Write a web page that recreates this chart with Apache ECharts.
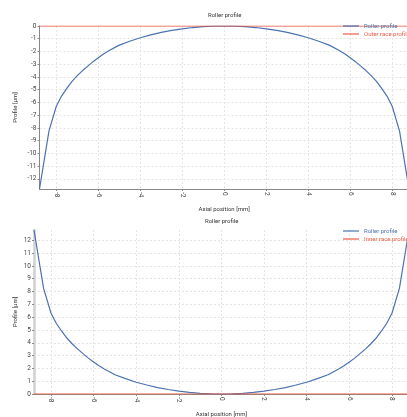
<!DOCTYPE html>
<html>
<head>
<meta charset="utf-8">
<script src="https://cdn.jsdelivr.net/npm/echarts@6/dist/echarts.min.js"></script>
<style>
html,body{margin:0;padding:0;background:#fff;}
#c{width:407px;height:417px;}
</style>
</head>
<body>
<div id="c"></div>
<script>
// Axial positions [mm] and roller profile magnitude [µm]
const axialPos = [-8.8, -8.35, -8, -7.75, -7.5, -7.25, -7, -6.75, -6.5, -6.25, -6, -5.75, -5.5, -5, -4.5, -4, -3.5, -3, -2.5, -2, -1.5, -1, -0.5, 0,
                  0.5, 1, 1.5, 2, 2.5, 3, 3.5, 4, 4.5, 5, 5.5, 5.75, 6, 6.25, 6.5, 6.75, 7, 7.25, 7.5, 7.75, 8, 8.35, 8.8];
const profileMag = [12.8, 8.25, 6.3, 5.5, 4.9, 4.35, 3.9, 3.5, 3.15, 2.8, 2.5, 2.2, 1.95, 1.5, 1.2, 0.92, 0.7, 0.5, 0.35, 0.22, 0.12, 0.05, 0.01, 0,
                    0.01, 0.05, 0.12, 0.22, 0.35, 0.5, 0.7, 0.92, 1.2, 1.5, 1.95, 2.2, 2.5, 2.8, 3.15, 3.5, 3.9, 4.35, 4.9, 5.5, 6.3, 8.25, 12.8];
const raceX = [-8.8, 8.8];
const raceY = [0, 0];
const xTicks = [-8, -6, -4, -2, 0, 2, 4, 6, 8];
const yTicksTop = [-12, -11, -10, -9, -8, -7, -6, -5, -4, -3, -2, -1, 0];
const yTicksBottom = [0, 1, 2, 3, 4, 5, 6, 7, 8, 9, 10, 11, 12];
const titles = ['Roller profile', 'Roller profile'];
const legendTop = ['Roller profile', 'Outer race profile'];
const legendBottom = ['Roller profile', 'Inner race profile'];

const BLUE = '#4c72b0';
const RED = '#ef5b46';
const FONT = 'Roboto, "Liberation Sans", sans-serif';
const FS = 6;
const FSL = 6.5;

const rollerTop = axialPos.map((x, i) => [x, -profileMag[i]]);
const rollerBottom = axialPos.map((x, i) => [x, profileMag[i]]);
const race = raceX.map((x, i) => [x, raceY[i]]);

const splitStyle = {show: true, lineStyle: {color: '#e4e4e4', type: [2, 2], width: 1}};

function xAxis(gi) {
  return {
    type: 'value', gridIndex: gi, min: -8.8, max: 8.8,
    name: 'Axial position [mm]', nameLocation: 'middle', nameGap: 17, nameMoveOverlap: false,
    nameTextStyle: {fontSize: FS, color: '#333', fontFamily: FONT},
    axisLine: {show: true, onZero: false, lineStyle: {color: '#888', width: 1}},
    axisTick: {show: true, length: 2, customValues: xTicks, lineStyle: {color: '#888'}},
    axisLabel: {customValues: xTicks, rotate: -90, fontSize: FSL, color: '#444', margin: 3, fontFamily: FONT},
    splitLine: splitStyle
  };
}
function yAxis(gi, ticks, min, max, nameGap, axisLineStyle) {
  return {
    type: 'value', gridIndex: gi, min: min, max: max,
    name: 'Profile [µm]', nameLocation: 'middle', nameGap: nameGap, nameMoveOverlap: false,
    nameTextStyle: {fontSize: FS, color: '#333', fontFamily: FONT},
    axisLine: {show: true, onZero: false, lineStyle: axisLineStyle},
    axisTick: {show: true, length: 2, customValues: ticks, lineStyle: {color: '#888'}},
    axisLabel: {customValues: ticks, fontSize: FSL, color: '#444', margin: 3, fontFamily: FONT},
    splitLine: splitStyle
  };
}

const chart = echarts.init(document.getElementById('c'), null, {renderer: 'canvas'});
chart.setOption({
  animation: false,
  backgroundColor: '#fff',
  title: [
    {text: titles[0], left: 208, top: 12, padding: 0, textStyle: {fontSize: FS, fontWeight: 'normal', color: '#333', fontFamily: FONT}},
    {text: titles[1], left: 205, top: 218, padding: 0, textStyle: {fontSize: FS, fontWeight: 'normal', color: '#333', fontFamily: FONT}}
  ],
  legend: [
    {orient: 'vertical', left: 343, top: 22, padding: 0, itemGap: 0, itemWidth: 16, itemHeight: 1.2, icon: 'rect',
     textStyle: {fontSize: FS, lineHeight: 8, fontFamily: FONT},
     data: [{name: legendTop[0], itemStyle: {color: BLUE}, textStyle: {color: BLUE}},
            {name: legendTop[1], itemStyle: {color: RED}, textStyle: {color: RED}}]},
    {orient: 'vertical', left: 343, top: 227, padding: 0, itemGap: 0, itemWidth: 16, itemHeight: 1.2, icon: 'rect',
     textStyle: {fontSize: FS, lineHeight: 8, fontFamily: FONT},
     data: [{name: legendBottom[0], itemStyle: {color: BLUE}, textStyle: {color: BLUE}},
            {name: legendBottom[1], itemStyle: {color: RED}, textStyle: {color: RED}}]}
  ],
  grid: [
    {left: 39.5, top: 26, height: 163, right: -2, containLabel: false, outerBoundsMode: 'none'},
    {left: 34, top: 230, height: 164, right: -2, containLabel: false, outerBoundsMode: 'none'}
  ],
  xAxis: [xAxis(0), xAxis(1)],
  yAxis: [
    yAxis(0, yTicksTop, -12.8, 0, 21, {color: '#888', width: 1}),
    yAxis(1, yTicksBottom, 0, 12.8, 16, {color: '#d0d0d0', width: 2.5})
  ],
  series: [
    {name: legendTop[0], type: 'line', xAxisIndex: 0, yAxisIndex: 0, data: rollerTop, showSymbol: false,
     lineStyle: {color: BLUE, width: 1.2}, itemStyle: {color: BLUE}, z: 2},
    {name: legendTop[1], type: 'line', xAxisIndex: 0, yAxisIndex: 0, data: race, showSymbol: false,
     lineStyle: {color: RED, width: 1.2}, itemStyle: {color: RED}, z: 3},
    {name: legendBottom[0], type: 'line', xAxisIndex: 1, yAxisIndex: 1, data: rollerBottom, showSymbol: false,
     lineStyle: {color: BLUE, width: 1.2}, itemStyle: {color: BLUE}, z: 2},
    {name: legendBottom[1], type: 'line', xAxisIndex: 1, yAxisIndex: 1, data: race, showSymbol: false,
     lineStyle: {color: RED, width: 1.2}, itemStyle: {color: RED}, z: 3}
  ]
});
</script>
</body>
</html>
